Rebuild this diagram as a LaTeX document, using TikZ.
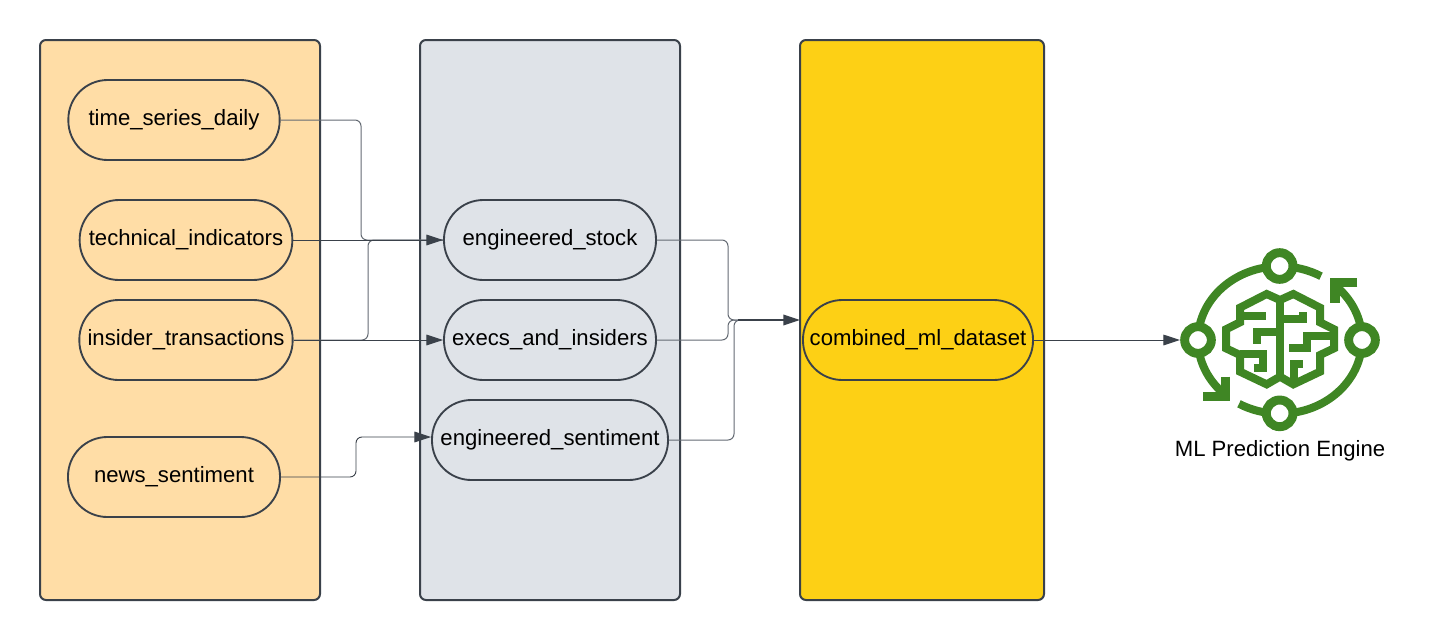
\documentclass[tikz,border=0pt]{standalone}
\usepackage{fontspec}
\setmainfont{Liberation Sans}
\usetikzlibrary{arrows.meta}
\definecolor{ink}{HTML}{3A414A}
\definecolor{wire}{HTML}{646A73}
\definecolor{peach}{HTML}{FFDDA6}
\definecolor{slate}{HTML}{DFE3E8}
\definecolor{gold}{HTML}{FDD015}
\definecolor{leaf}{HTML}{3F8624}
\tikzset{
  panel/.style={draw=ink,line width=1.5pt,rounded corners=4.5pt,inner sep=0pt},
  pill/.style={draw=ink,line width=1.4pt,rounded corners=29.5pt,minimum height=60pt,inner sep=0pt,font=\fontsize{16.6}{20}\selectfont,text=black},
  wirepath/.style={draw=wire,line width=0.75pt,rounded corners=4.5pt},
  main/.style={draw=ink,line width=0.7pt},
  tip/.style={-{Triangle[length=12.5pt,width=8pt,fill=ink]}},
  ic/.style={draw=leaf,line width=6pt,line join=miter},
  ichead/.style={draw=leaf,line width=7pt,line join=miter},
  ring/.style={draw=leaf,line width=6.7pt,fill=white},
}
\begin{document}
\begin{tikzpicture}[x=0.75pt,y=-0.75pt]
\useasboundingbox (0,0) rectangle (1450,640);
% panels
\node[panel,fill=peach,minimum width=210pt,minimum height=420pt] (p1) at (180,320) {};
\node[panel,fill=slate,minimum width=195pt,minimum height=420pt] (p2) at (550,320) {};
\node[panel,fill=gold,minimum width=183pt,minimum height=420pt] (p3) at (922,320) {};
% pills
\node[pill,minimum width=158.5pt] (a) at (174,120) {time\_series\_daily};
\node[pill,minimum width=159.5pt] (b) at (186,240) {technical\_indicators};
\node[pill,minimum width=160pt] (c) at (186,340) {insider\_transactions};
\node[pill,minimum width=159pt] (d) at (174,477) {news\_sentiment};
\node[pill,minimum width=159pt] (e) at (550,240) {engineered\_stock};
\node[pill,minimum width=159pt] (f) at (550,340) {execs\_and\_insiders};
\node[pill,minimum width=177pt] (g) at (550,440) {engineered\_sentiment};
\node[pill,minimum width=172.5pt] (h) at (918,340) {combined\_ml\_dataset};
\coordinate (icon) at (1180,340);
\coordinate (mid) at (800,320);
\coordinate (j) at (738,320);
% wires
\draw[wirepath] (a.east) -- (361,120) -- (361,240) -- (e.west);
\draw[wirepath] (c.east) -- (368,340) -- (368,240) -- (e.west);
\draw[wirepath] (e.east) -- (728,240) -- (728,320) -- (j);
\draw[wirepath] (f.east) -- (728,340) -- (728,320) -- (j);
\draw[wirepath] (g.east) -- (734,440) -- (734,320) -- (j);
% arrows
\draw[main,tip] (b.east) -- (e.west);
\draw[main,tip] (c.east) -- (f.west);
\draw[main,rounded corners=4.5pt,tip] (d.east) -- (356,477) -- (356,437) -- (g.west|-0,437);
\draw[main,line width=1pt,tip] (j) -- (mid);
\draw[main,tip] (h.east) -- (icon);
% icon ring (local y runs downward, so negative angles are on top)
\begin{scope}[shift={(1170,240)},x=0.25pt,y=-0.25pt]
  \draw[ic] (84,300) arc[x radius=246,y radius=221,start angle=180,end angle=300];
  \draw[ic] (576,300) arc[x radius=246,y radius=221,start angle=0,end angle=120];
  \draw[ic] (84,300) arc[x radius=246,y radius=221,start angle=180,end angle=132];
  \draw[ic] (576,300) arc[x radius=246,y radius=221,start angle=0,end angle=-49];
  \draw[ichead] (562,128) -- (495,128) -- (495,190);
  \draw[ichead] (166,410) -- (166,470) -- (98,470);
  \filldraw[ring] (329,78) circle[radius=40];
  \filldraw[ring] (329,520) circle[radius=40];
  \filldraw[ring] (84,300) circle[radius=40];
  \filldraw[ring] (576,300) circle[radius=40];
\end{scope}
% brain
\begin{scope}[shift={(1220,285)},x=0.25pt,y=-0.25pt]
  \draw[ic] (180,45) -- (140,27) -- (60,68) -- (60,112) -- (18,133) -- (18,190) -- (60,210) -- (60,260) -- (140,298) -- (180,275) -- (220,298) -- (300,260) -- (300,210) -- (342,190) -- (342,133) -- (300,112) -- (300,68) -- (220,27) -- cycle;
  \draw[ic] (180,45) -- (180,275);
  \draw[ic] (60,92) -- (138,92);
  \draw[ic] (170,140) -- (110,140) -- (110,176);
  \draw[ic] (60,207) -- (128,207) -- (128,250) -- (102,250);
  \draw[ic] (180,103) -- (250,103) -- (250,80);
  \draw[ic] (342,152) -- (260,152) -- (260,190) -- (208,190);
  \draw[ic] (248,237) -- (222,237) -- (222,285);
\end{scope}
\node[font=\fontsize{16.6}{20}\selectfont,text=black,inner sep=0pt] (lbl) at (1280,451) {ML Prediction Engine};
\end{tikzpicture}
\end{document}
